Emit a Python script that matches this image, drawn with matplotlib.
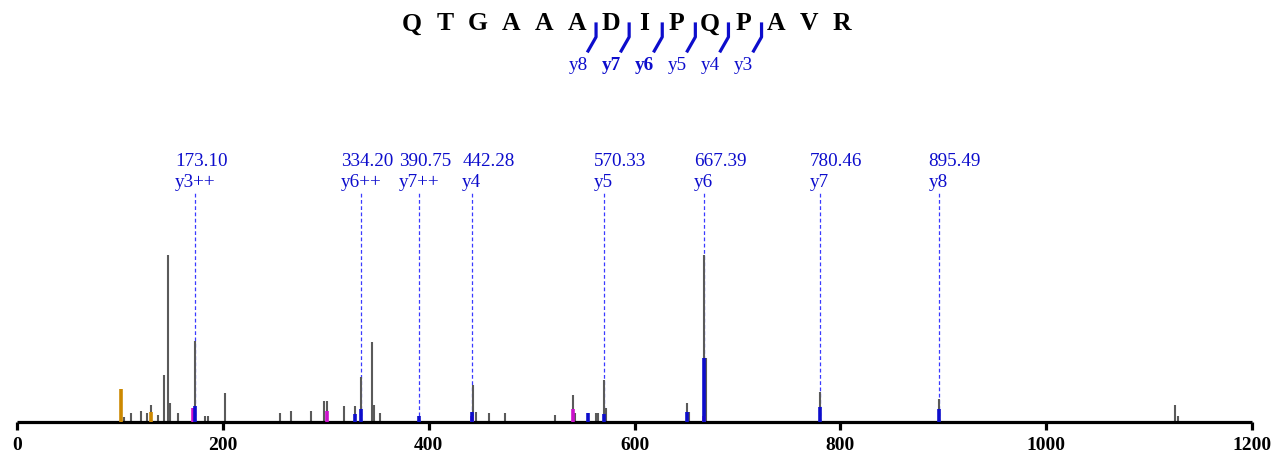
import matplotlib
matplotlib.use("Agg")
import matplotlib.pyplot as plt
from matplotlib.lines import Line2D

W, H = 1273, 460

# peptide and fragment sites (y ions, cut after residue index)
peptide = "QTGAAADIPQPAVR"
frag_names = ["y8", "y7", "y6", "y5", "y4", "y3"]
frag_cut = [5, 6, 7, 8, 9, 10]
frag_bold = [False, True, True, False, False, False]

# all peaks (m/z, relative intensity %)
peak_mz = [103.5, 111.0, 120.7, 126.8, 130.4, 137.0, 143.0, 146.3, 148.2, 156.0,
           173.1, 183.0, 186.0, 202.4, 255.3, 266.4, 285.5, 298.1, 301.4, 317.6,
           328.6, 334.2, 345.2, 346.8, 352.7, 390.75, 442.6, 446.4, 458.7, 474.6,
           522.6, 540.1, 542.1, 562.5, 564.2, 570.33, 572.6, 650.8, 653.4, 667.39,
           669.6, 780.46, 895.49, 1124.7, 1128.0]
peak_int = [3.2, 5.4, 6.6, 5.4, 10.2, 4.2, 28.1, 100.0, 11.4, 5.4,
            48.5, 3.6, 3.6, 17.4, 5.4, 6.6, 6.6, 12.6, 12.6, 9.6,
            9.3, 27.0, 47.9, 10.2, 5.4, 3.8, 22.0, 6.0, 5.4, 5.4,
            4.2, 16.2, 5.4, 5.4, 5.4, 25.0, 8.2, 11.2, 6.0, 100.0,
            38.1, 18.0, 13.8, 10.2, 3.4]

# matched ions, coloured overlays
blue_mz = [173.1, 328.6, 334.2, 390.75, 442.28, 554.4, 570.33, 650.8, 667.39, 780.46, 895.49]
blue_int = [9.6, 4.8, 7.8, 3.8, 6.0, 5.4, 4.8, 5.8, 38.1, 8.8, 7.8]
magenta_mz = [171.3, 301.7, 441.8, 540.1, 667.39]
magenta_int = [8.4, 6.6, 3.8, 7.8, 3.4]
orange_mz = [101.2, 130.4]
orange_int = [19.8, 6.0]

# labelled peaks
label_mz = [173.10, 334.20, 390.75, 442.28, 570.33, 667.39, 780.46, 895.49]
label_ion = ["y3++", "y6++", "y7++", "y4", "y5", "y6", "y7", "y8"]

BLUE = "#0d0dcc"
GRAY = "#5a5a5a"
MAGENTA = "#cc11cc"
ORANGE = "#cc8800"
SERIF = ["Liberation Serif", "DejaVu Serif"]

x_left, x_right = 17, 1252
base_px = 423
full_px = 167  # pixels for 100 %
ytop = base_px / full_px * 100

fig = plt.figure(figsize=(W / 100, H / 100), dpi=100)
ax = fig.add_axes([x_left / W, (H - base_px) / H, (x_right - x_left) / W, base_px / H])
ax.set_xlim(0, 1200)
ax.set_ylim(0, ytop)


def py(p):
    return (base_px - p) / full_px * 100


# dashed guide lines for labelled peaks
ax.vlines(label_mz, 0, py(193), colors="#3a3aff", linestyles=(0, (3, 2)), linewidth=0.9, zorder=1)

ax.vlines(peak_mz, 0, peak_int, colors=GRAY, linewidth=1.5, zorder=2)
ax.vlines(orange_mz, 0, orange_int, colors=ORANGE, linewidth=2.6, zorder=3)
ax.vlines(magenta_mz, 0, magenta_int, colors=MAGENTA, linewidth=2.6, zorder=3)
ax.vlines(blue_mz, 0, blue_int, colors=BLUE, linewidth=2.6, zorder=4)

px_per_unit = (x_right - x_left) / 1200
for mz, ion in zip(label_mz, label_ion):
    off = (20 if "++" in ion else 10) / px_per_unit
    ax.text(mz - off, py(166), f"{mz:.2f}", color=BLUE, fontsize=13.8,
            family=SERIF, va="baseline", ha="left")
    ax.text(mz - off, py(187), ion, color=BLUE, fontsize=13.8,
            family=SERIF, va="baseline", ha="left")

for s in ["top", "right", "left"]:
    ax.spines[s].set_visible(False)
ax.spines["bottom"].set_linewidth(2.3)
ax.spines["bottom"].set_capstyle("butt")
ax.set_yticks([])
ax.set_xticks(range(0, 1201, 200))
ax.tick_params(axis="x", direction="out", length=6, width=2.3, pad=4)
for lab in ax.get_xticklabels():
    lab.set_fontfamily(SERIF)
    lab.set_fontweight("bold")
    lab.set_fontsize(14)

# peptide sequence header (figure pixel coordinates)
x0, step, ylet = 412, 33.1, 24
for i, aa in enumerate(peptide):
    fig.text((x0 + step * i) / W, 1 - ylet / H, aa, ha="center", va="center",
             fontsize=18.5, fontweight="bold", family=SERIF)

for name, cut, bold in zip(frag_names, frag_cut, frag_bold):
    mid = x0 + step * (cut + 0.5)
    xs = [mid + 2, mid + 2, mid - 6]
    ys = [25, 38, 52]
    fig.add_artist(Line2D([x / W for x in xs], [1 - y / H for y in ys],
                          color=BLUE, linewidth=2.3, transform=fig.transFigure))
    fig.text((mid - 16) / W, 1 - 66 / H, name, ha="center", va="center",
             fontsize=13.8, color=BLUE, family=SERIF,
             fontweight="bold" if bold else "normal")

fig.savefig("out.png", dpi=100)
